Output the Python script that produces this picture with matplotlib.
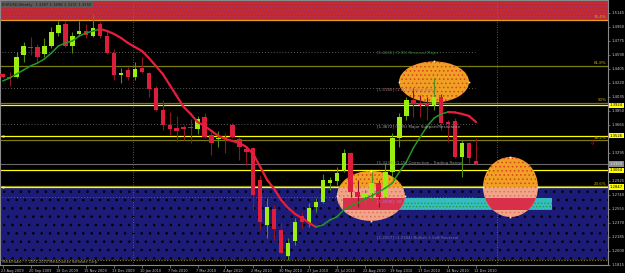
import matplotlib
matplotlib.use("Agg")
import matplotlib.pyplot as plt
import numpy as np
from matplotlib.patches import Rectangle, Ellipse
from matplotlib.collections import LineCollection
from matplotlib.transforms import ScaledTranslation
from matplotlib import font_manager

_names = {f.name for f in font_manager.fontManager.ttflist}
NARROW = 'Liberation Sans Narrow' in _names
SMALL = ['Liberation Sans Narrow', 'DejaVu Sans'] if NARROW else ['DejaVu Sans']
plt.rcParams['font.family'] = SMALL
plt.rcParams['hatch.linewidth'] = 0.6
K = 1.25 if NARROW else 1.0   # font size factor

# ---------------- data ----------------
date_labels = ["23 Aug 2009", "20 Sep 2009", "18 Oct 2009", "15 Nov 2009", "13 Dec 2009",
               "10 Jan 2010", "7 Feb 2010", "7 Mar 2010", "4 Apr 2010", "2 May 2010",
               "30 May 2010", "27 Jun 2010", "25 Jul 2010", "22 Aug 2010", "19 Sep 2010",
               "17 Oct 2010", "14 Nov 2010", "12 Dec 2010"]
label_step = 4

opens = [1.4339, 1.4300, 1.4300, 1.4590, 1.4696, 1.4696, 1.4603, 1.4709, 1.4881, 1.5000,
         1.4709, 1.4868, 1.4907, 1.4841, 1.5000, 1.4841, 1.4617, 1.4326, 1.4392, 1.4300,
         1.4418, 1.4352, 1.4154, 1.3864, 1.3665, 1.3626, 1.3639, 1.3630, 1.3613, 1.3771,
         1.3533, 1.3475, 1.3510, 1.3665, 1.3480, 1.3348, 1.3362, 1.2939, 1.2345, 1.2556,
         1.2279, 1.1935, 1.2133, 1.2464, 1.2371, 1.2582, 1.2648, 1.2899, 1.2926, 1.3071,
         1.3296, 1.2780, 1.2714, 1.2767, 1.2899, 1.2714, 1.3045, 1.3494, 1.3784, 1.3996,
         1.3956, 1.3943, 1.3930, 1.4035, 1.3705, 1.3718, 1.3243, 1.3428, 1.3187]
highs = [1.4352, 1.4366, 1.4630, 1.4762, 1.4828, 1.4730, 1.4815, 1.4960, 1.5039, 1.5039,
         1.4894, 1.5039, 1.5000, 1.5132, 1.5020, 1.4920, 1.4669, 1.4418, 1.4432, 1.4498,
         1.4564, 1.4366, 1.4181, 1.3996, 1.3837, 1.3784, 1.3665, 1.3745, 1.3784, 1.3824,
         1.3573, 1.3586, 1.3560, 1.3692, 1.3507, 1.3375, 1.3375, 1.3005, 1.2701, 1.2609,
         1.2371, 1.2173, 1.2437, 1.2516, 1.2635, 1.2701, 1.3018, 1.2979, 1.3111, 1.3348,
         1.3309, 1.2939, 1.2807, 1.3045, 1.2939, 1.3164, 1.3560, 1.3824, 1.4035, 1.4154,
         1.4060, 1.4035, 1.4286, 1.4075, 1.3731, 1.3758, 1.3467, 1.3441, 1.3498]
lows = [1.4286, 1.4181, 1.4286, 1.4498, 1.4590, 1.4498, 1.4564, 1.4683, 1.4841, 1.4696,
        1.4617, 1.4860, 1.4815, 1.4828, 1.4815, 1.4600, 1.4260, 1.4220, 1.4260, 1.4260,
        1.4352, 1.4035, 1.3850, 1.3599, 1.3533, 1.3441, 1.3467, 1.3428, 1.3547, 1.3494,
        1.3269, 1.3375, 1.3296, 1.3494, 1.3203, 1.3137, 1.2543, 1.2280, 1.2173, 1.2146,
        1.1960, 1.1880, 1.2080, 1.2292, 1.2319, 1.2516, 1.2635, 1.2807, 1.2873, 1.3045,
        1.2714, 1.2588, 1.2609, 1.2675, 1.2582, 1.2675, 1.2979, 1.3375, 1.3731, 1.3771,
        1.3771, 1.3731, 1.3864, 1.3599, 1.3441, 1.3230, 1.2979, 1.3164, 1.3131]
closes = [1.4300, 1.4290, 1.4564, 1.4709, 1.4677, 1.4564, 1.4709, 1.4894, 1.4986, 1.4709,
          1.4841, 1.4907, 1.4854, 1.4947, 1.4841, 1.4617, 1.4326, 1.4352, 1.4300, 1.4405,
          1.4366, 1.4141, 1.3864, 1.3665, 1.3613, 1.3586, 1.3613, 1.3622, 1.3745, 1.3507,
          1.3428, 1.3482, 1.3495, 1.3507, 1.3375, 1.3309, 1.2741, 1.2384, 1.2582, 1.2292,
          1.1975, 1.2107, 1.2384, 1.2384, 1.2569, 1.2648, 1.2939, 1.2939, 1.3031, 1.3296,
          1.2780, 1.2714, 1.2767, 1.2899, 1.2714, 1.3045, 1.3494, 1.3771, 1.3996, 1.3943,
          1.3930, 1.3917, 1.4035, 1.3692, 1.3680, 1.3243, 1.3428, 1.3230, 1.3150]
ma_values = [1.4247, 1.4286, 1.4339, 1.4392, 1.4445, 1.4484, 1.4537, 1.4617, 1.4709, 1.4749,
             1.4775, 1.4841, 1.4881, 1.4907, 1.4934, 1.4907, 1.4868, 1.4815, 1.4749, 1.4696,
             1.4643, 1.4551, 1.4445, 1.4339, 1.4194, 1.4049, 1.3903, 1.3811, 1.3705, 1.3652,
             1.3586, 1.3520, 1.3481, 1.3454, 1.3428, 1.3375, 1.3282, 1.3111, 1.2939, 1.2820,
             1.2675, 1.2569, 1.2490, 1.2437, 1.2371, 1.2318, 1.2344, 1.2410, 1.2450, 1.2543,
             1.2595, 1.2635, 1.2688, 1.2728, 1.2780, 1.2833, 1.2899, 1.3045, 1.3177, 1.3362,
             1.3507, 1.3652, 1.3758, 1.3811, 1.3837, 1.3831, 1.3811, 1.3784, 1.3705]

price_ticks = [1.5145, 1.4960, 1.4775, 1.4590, 1.4405, 1.4220, 1.4035, 1.3850, 1.3665,
               1.3295, 1.2925, 1.2740, 1.2555, 1.2370, 1.2185, 1.2000, 1.1815]

fib_levels = [1.2858, 1.3466, 1.3957, 1.4448, 1.5056]
fib_names = ["23.6%", "38.2%", "50%", "61.8%", "76.4%"]

yellow_levels = [1.3924, 1.3526, 1.3064, 1.2847]
bid_price = 1.3150
info_text = "EURUSD,Weekly  1.3187 1.3498 1.3131 1.3150"

note_line_prices = [1.4630, 1.4160, 1.3679, 1.2714]
note_text_prices = [1.4617, 1.4128, 1.3639, 1.3164, 1.2661, 1.2186]
note_texts = ["[1.4646] (1.05) Reversal Major", "[1.4180] (1.10) Trading Range",
              "[1.3672] (1.05) Major Support/Resistance", "[1.3139] (1.15) Correction - Trading Range",
              "[1.2690]: 58", "[1.2257] (1.2304) Bullish 1.5oB Reversal"]
note_colors = ["#2f8f2f", "#b87070", "#a8a8a8", "#8a8a8a", "#b070e0", "#6c6ca0"]
note_x = 53.8
note_end = 67.9

separators = [18.7, 71.0]

blue_zone = (1.1876, 1.2847)
red_zone = (1.5056, 1.56)
band_x = (48.9, 78.9)
band_y = (1.2543, 1.2701)
# ellipses: centre bar, centre price, width (bars), height (price)
ellipses = [(61.97, 1.4234, 10.06, 0.0542),
            (52.9, 1.2728, 9.77, 0.0660),
            (72.96, 1.2846, 7.9, 0.0793)]
arrow_pos = (84.8, 1.3428)

# ---------------- figure ----------------
fig = plt.figure(figsize=(6.25, 2.73), dpi=100)
fig.patch.set_facecolor('black')
ax = fig.add_axes([0, 8 / 273, 608 / 625, 265 / 273])
ax.set_facecolor('black')
ax.set_xlim(-0.388, 86.97)
ax.set_ylim(1.18161, 1.53167)

# zones
ax.add_patch(Rectangle((-5, blue_zone[0]), 100, blue_zone[1] - blue_zone[0],
                       facecolor='#1c1c78', edgecolor='#000000', hatch='..', lw=0, zorder=1))
ax.add_patch(Rectangle((-5, red_zone[0]), 100, red_zone[1] - red_zone[0],
                       facecolor='#c2282c', edgecolor='#9a3a86', hatch='.....', lw=0, zorder=1))
ax.axhline(blue_zone[0], color='#8a7a28', lw=0.8, ls=(0, (1, 1.5)), zorder=2)

# separators
for s in separators:
    ax.axvline(s, color='#707070', lw=0.6, ls=(0, (1, 2)), zorder=2)

# note lines
for p in note_line_prices:
    ax.plot([-1, note_end], [p, p], color='#5e5e5e', lw=0.7, ls=(0, (1, 2)), zorder=2)

# fib lines
for lv, nm in zip(fib_levels, fib_names):
    col = '#e0a020' if nm == "76.4%" else '#7c7c10'
    ax.axhline(lv, color=col, lw=0.9, zorder=2)
    ax.text(0.997, lv + 0.0006, nm, transform=ax.get_yaxis_transform(), ha='right', va='bottom',
            fontsize=2.9 * K, color='#c8b000', zorder=9)

# yellow lines
for lv in yellow_levels:
    ax.axhline(lv, color='#ffff00', lw=0.9, zorder=2.5)
# bid line
ax.axhline(bid_price, color='#6a6a6a', lw=0.8, zorder=2.5)

# band
ax.add_patch(Rectangle((band_x[0], band_y[0]), band_x[1] - band_x[0], band_y[1] - band_y[0],
                       facecolor='#36bcbc', lw=0, zorder=3))
ax.add_patch(Rectangle((band_x[0], band_y[0]), band_x[1] - band_x[0], (band_y[1] - band_y[0]) * 0.62,
                       facecolor='none', edgecolor='#22a03c', hatch='.....', lw=0, zorder=3.1))

# ellipses (orange above the blue zone, salmon inside it)
for (cx, cy, w, hh) in ellipses:
    for lo, hi, fc, dc in [(blue_zone[1], 2.0, '#f0a024', '#d8441c'),
                           (0.0, blue_zone[1], '#f0a488', '#e07060')]:
        e = Ellipse((cx, cy), w, hh, facecolor=fc, edgecolor=dc, hatch='....', lw=0, zorder=4)
        ax.add_patch(e)
        e.set_clip_path(Rectangle((-10, lo), 200, hi - lo, transform=ax.transData))
    clipper = Ellipse((cx, cy), w, hh, transform=ax.transData)
    r = Rectangle((band_x[0], band_y[0]), band_x[1] - band_x[0], band_y[1] - band_y[0],
                  facecolor='#d8304a', lw=0, zorder=4.5)
    ax.add_patch(r)
    r.set_clip_path(clipper)
    ax.plot([cx, cx, cx - w / 2, cx + w / 2], [cy + hh / 2, cy - hh / 2, cy, cy], ls='none',
            marker='s', ms=1.2, mfc='#fff0c0', mec='none', zorder=5)

# candles
o = np.array(opens); h = np.array(highs); l = np.array(lows); c = np.array(closes)
x = np.arange(len(o))
up = c >= o
lo_b = np.minimum(o, c)
hgt = np.maximum(np.abs(c - o), 0.0012)
ax.vlines(x[up], l[up], h[up], color='#4f8f10', lw=0.8, zorder=6)
ax.vlines(x[~up], l[~up], h[~up], color='#8a1420', lw=0.8, zorder=6)
ax.bar(x[up], hgt[up], bottom=lo_b[up], width=0.64, color='#9cee10', lw=0, zorder=7)
ax.bar(x[~up], hgt[~up], bottom=lo_b[~up], width=0.64, color='#dc1e3c', lw=0, zorder=7)

# moving average coloured by slope
ma = np.array(ma_values)
segs = [[(x[i], ma[i]), (x[i + 1], ma[i + 1])] for i in range(len(ma) - 1)]
rising = [ma[i + 1] >= ma[i] for i in range(len(ma) - 1)]
lc = LineCollection(segs, colors=['#22962a' if r_ else '#e61e3c' for r_ in rising],
                    linewidths=[1.1 if r_ else 1.6 for r_ in rising], zorder=8, capstyle='round')
ax.add_collection(lc)

# notes
for tp, tx, col in zip(note_text_prices, note_texts, note_colors):
    ax.text(note_x, tp, tx, fontsize=2.9 * K, color=col, va='center', ha='left', zorder=9)

# markers on left edge of yellow lines
ax.plot([0.0, 0.0], [yellow_levels[1], yellow_levels[3]], ls='none', marker='s', ms=1.6,
        mfc='#ffff60', mec='none', zorder=9, clip_on=False)

# red arrow
ax.text(arrow_pos[0], arrow_pos[1], "\u21e9", color='#e02020', fontsize=4.5, ha='center', va='center',
        family=['DejaVu Sans'], zorder=9)

# right-axis labels for lines
for lv in yellow_levels:
    ax.text(1.003, lv, f"{lv:.4f}", transform=ax.get_yaxis_transform(), fontsize=2.7 * K, color='black',
            va='center', ha='left', clip_on=False, zorder=10,
            bbox=dict(boxstyle='square,pad=0.2', fc='#ffff00', ec='none'))
ax.text(1.003, bid_price, f"{bid_price:.4f}", transform=ax.get_yaxis_transform(), fontsize=2.7 * K,
        color='#f0f0f0', va='center', ha='left', clip_on=False, zorder=10,
        bbox=dict(boxstyle='square,pad=0.2', fc='#8a8a8a', ec='none'))

# info box & copyright
ax.text(0.004, 0.983, info_text, transform=ax.transAxes, fontsize=2.7 * K, color='#151515',
        va='center', ha='left', zorder=10,
        bbox=dict(boxstyle='square,pad=0.3', fc='#5c5c5c', ec='none'))
ax.text(0.004, 0.012, "MetaTrader, \u00a9 2001-2010 MetaQuotes Software Corp.", transform=ax.transAxes,
        fontsize=2.5 * K, color='#a0a0a0', va='center', ha='left', zorder=10)

# axes styling
for side in ['left', 'top', 'bottom', 'right']:
    ax.spines[side].set_color('#8a8a8a')
    ax.spines[side].set_linewidth(0.8)
ax.yaxis.tick_right()
ax.set_yticks(price_ticks)
ax.set_yticklabels([f"{v:.4f}" for v in price_ticks])
ax.tick_params(axis='y', length=1.5, width=0.5, color='#8a8a8a', pad=0.8, labelsize=2.7 * K,
               labelcolor='#c8c8c8')
tick_bars = list(range(0, len(o), label_step))
ax.set_xticks(tick_bars)
ax.set_xticklabels(date_labels, ha='left')
ax.tick_params(axis='x', length=2, width=0.5, color='#8a8a8a', pad=0.8, labelsize=2.5 * K,
               labelcolor='#c8c8c8')
off = ScaledTranslation(-0.02, 0, fig.dpi_scale_trans)
for t in ax.get_xticklabels():
    t.set_transform(t.get_transform() + off)

fig.savefig("out.png", dpi=100, facecolor='black')
